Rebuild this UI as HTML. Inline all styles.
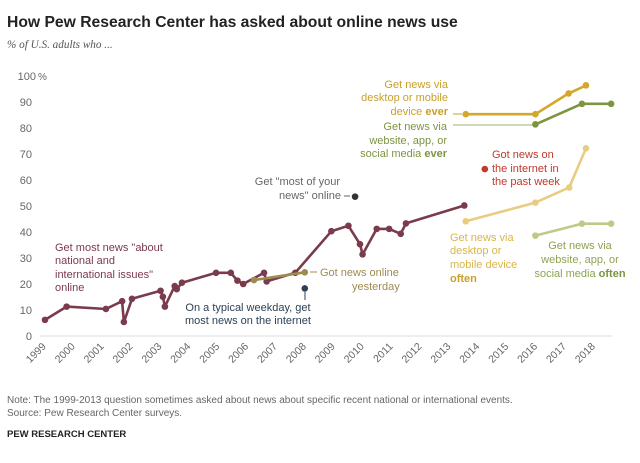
<!DOCTYPE html>
<html><head><meta charset="utf-8"><style>
body{margin:0;background:#fff;width:640px;height:458px;overflow:hidden;font-family:"Liberation Sans",sans-serif}
svg text{font-family:"Liberation Sans",sans-serif}
</style></head><body>
<svg id="chart" width="640" height="458" viewBox="0 0 640 458">
<text x="7" y="27" font-size="15.7" font-weight="bold" fill="#222">How Pew Research Center has asked about online news use</text>
<text x="7" y="48" font-size="11.2" font-style="italic" fill="#555" style="font-family:'Liberation Serif',serif">% of U.S. adults who ...</text>
<g id="axes"></g>
<g id="marks"></g>
<g font-size="11">
<text fill="#7a3b4c"><tspan x="55" y="251">Get most news "about</tspan><tspan x="55" y="264">national and</tspan><tspan x="55" y="278">international issues"</tspan><tspan x="55" y="291">online</tspan></text>
<text fill="#666" text-anchor="end"><tspan x="340" y="185">Get "most of your</tspan><tspan x="341" y="199">news" online</tspan></text>
<line x1="344" y1="196" x2="350" y2="196" stroke="#666"/>
<text fill="#9c8c50"><tspan x="320" y="276">Got news online</tspan><tspan x="352" y="290">yesterday</tspan></text>
<line x1="310" y1="272" x2="317" y2="272" stroke="#9c8c50"/>
<text fill="#2c4156" text-anchor="middle"><tspan x="248" y="311">On a typical weekday, get</tspan><tspan x="248" y="324">most news on the internet</tspan></text>
<line x1="305" y1="292" x2="305" y2="300" stroke="#2c4156"/>
<text fill="#c9a02a" text-anchor="end"><tspan x="448" y="88">Get news via</tspan><tspan x="448" y="101">desktop or mobile</tspan><tspan x="448" y="115">device <tspan font-weight="bold">ever</tspan></tspan></text>
<line x1="453" y1="114" x2="462" y2="114" stroke="#c9a02a"/>
<text fill="#7d9441" text-anchor="end"><tspan x="447" y="130">Get news via</tspan><tspan x="447" y="144">website, app, or</tspan><tspan x="447" y="157">social media <tspan font-weight="bold">ever</tspan></tspan></text>
<line x1="453" y1="125" x2="533" y2="125" stroke="#7d9441" stroke-width="0.8"/>
<text fill="#c0392b"><tspan x="492" y="158">Got news on</tspan><tspan x="492" y="172">the internet in</tspan><tspan x="492" y="185">the past week</tspan></text>
<text fill="#d9b54a"><tspan x="450" y="241">Get news via</tspan><tspan x="450" y="254">desktop or</tspan><tspan x="450" y="268">mobile device</tspan><tspan x="450" y="282" font-weight="bold" fill="#c9a02a">often</tspan></text>
<text fill="#8fa352" text-anchor="middle"><tspan x="580" y="249">Get news via</tspan><tspan x="580" y="263">website, app, or</tspan><tspan x="580" y="277">social media <tspan font-weight="bold" fill="#7d9441">often</tspan></tspan></text>
</g>
<text x="7" y="403" font-size="10" fill="#666">Note: The 1999-2013 question sometimes asked about news about specific recent national or international events.</text>
<text x="7" y="416" font-size="10" fill="#666">Source: Pew Research Center surveys.</text>
<text x="7" y="437" font-size="9.5" font-weight="bold" fill="#222">PEW RESEARCH CENTER</text>
</svg>
<script>
const yTicks=[0,10,20,30,40,50,60,70,80,90,100];
const xYears=[1999,2000,2001,2002,2003,2004,2005,2006,2007,2008,2009,2010,2011,2012,2013,2014,2015,2016,2017,2018];
const mostNewsYears=[1998.94,1999.69,2001.05,2001.61,2001.67,2001.95,2002.94,2003.02,2003.09,2003.43,2003.50,2003.68,2004.86,2005.37,2005.60,2005.80,2006.52,2006.61,2007.60,2008.85,2009.44,2009.84,2009.93,2010.42,2010.85,2011.25,2011.43,2013.45];
const mostNewsValues=[6.2,11.3,10.4,13.4,5.4,14.3,17.4,15.1,11.3,19.2,18,20.5,24.3,24.3,21.3,20,24.3,21,24.3,40.3,42.4,35.3,31.4,41.2,41.2,39.3,43.3,50.2];
const yesterdayYears=[2006.17,2007.93];
const yesterdayValues=[21.5,24.5];
const desktopEverYears=[2013.50,2015.91,2017.06,2017.66];
const desktopEverValues=[85.3,85.3,93.3,96.4];
const websiteEverYears=[2015.91,2017.52,2018.53];
const websiteEverValues=[81.4,89.3,89.3];
const desktopOftenYears=[2013.50,2015.91,2017.08,2017.66];
const desktopOftenValues=[44.1,51.3,57.1,72.2];
const websiteOftenYears=[2015.91,2017.52,2018.53];
const websiteOftenValues=[38.6,43.2,43.2];
const singleYears=[2007.93,2009.67,2014.16];
const singleValues=[18.3,53.6,64.2];

const NS='http://www.w3.org/2000/svg';
function x(yr){return 46.7+28.9*(yr-1999);}
function y(v){return 336-2.6*v;}
function mk(tag,attrs,parent){const e=document.createElementNS(NS,tag);for(const k in attrs)e.setAttribute(k,attrs[k]);parent.appendChild(e);return e;}
const axes=document.getElementById('axes'),marks=document.getElementById('marks');
const base=mk('line',{x1:40,x2:612,y1:y(0),y2:y(0),stroke:'#e3e3e3','stroke-width':1.2},axes);


yTicks.forEach(t=>{
  const tx=mk('text',{x:t===100?36:32,y:y(t)+4,'font-size':11,fill:'#666','text-anchor':'end'},axes);
  tx.textContent=String(t);
  
  
  if(t===100){const p=mk('text',{x:38,y:y(t)+4,'font-size':10,fill:'#666'},axes);p.textContent='%';
    
    }
});
xYears.forEach(yr=>{
  const px=x(yr);
  const tx=mk('text',{x:px,y:347,'font-size':10.5,fill:'#666','text-anchor':'end',transform:`rotate(-45 ${px} 347)`},axes);
  tx.textContent=String(yr);
  
  
});
function series(name,yrs,vals,color,w){
  const pts=yrs.map((yr,i)=>x(yr).toFixed(1)+','+y(vals[i]).toFixed(1)).join(' ');
  const pl=mk('polyline',{points:pts,fill:'none',stroke:color,'stroke-width':w,'stroke-linejoin':'round'},marks);
  
  
  yrs.forEach((yr,i)=>{
    const c=mk('circle',{cx:x(yr),cy:y(vals[i]),r:3.3,fill:color},marks);
    
    
  });
}
series('most-news',mostNewsYears,mostNewsValues,'#7a3b4c',2.6);
series('yesterday',yesterdayYears,yesterdayValues,'#9c8c50',2.6);
series('desktop-ever',desktopEverYears,desktopEverValues,'#d4a62a',2.6);
series('website-ever',websiteEverYears,websiteEverValues,'#7d9441',2.6);
series('desktop-often',desktopOftenYears,desktopOftenValues,'#e8cc80',2.6);
series('website-often',websiteOftenYears,websiteOftenValues,'#bccb88',2.6);
const singleColors=['#2c4156','#333','#c0392b'];
const singleNames=['typical-weekday-dot','most-of-your-news-dot','past-week-dot'];
singleYears.forEach((yr,i)=>{
  const c=mk('circle',{cx:x(yr),cy:y(singleValues[i]),r:3.3,fill:singleColors[i]},marks);
  
  
});
</script>
</body></html>
